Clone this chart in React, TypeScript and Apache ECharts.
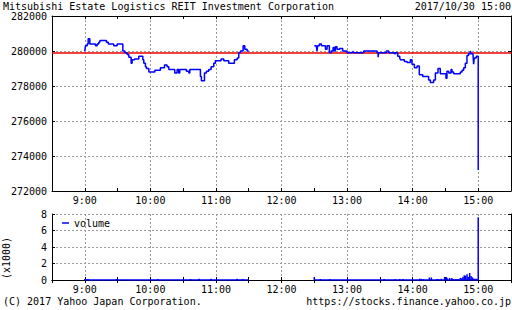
import React, { useEffect, useRef } from "react";
import * as echarts from "echarts";

// ---- data (times are minutes after 9:00) ----
const morningTimes = [0, 0.6, 2.2, 3.1, 4.6, 9.8, 11.3, 12.8, 13.8, 19.8, 21.5, 26.5, 29.6, 34.8, 36.6, 38.8, 40.3, 42.4, 43.3, 45.5, 49.4, 53.1, 54, 55.5, 56.4, 58.6, 64.1, 69.2, 72.9, 75.3, 76.9, 82.3, 84.5, 86, 86.9, 93, 95.2, 96.1, 105.8, 106.7, 109.5, 111.3, 113.4, 115.6, 118, 119.5, 124.7, 127.2, 131.7, 136.9, 139.4, 140.9, 142.4, 144.9, 146.4, 148.5, 150];
const morningPrices = [280000, 280300, 280400, 280700, 280400, 280300, 280400, 280500, 280600, 280500, 280400, 280300, 280400, 280000, 279900, 279800, 279650, 279300, 279500, 279550, 279700, 279500, 279300, 279100, 279000, 278800, 278900, 279050, 279200, 279100, 278950, 278750, 278950, 278750, 278950, 278850, 278750, 278950, 278550, 278300, 278750, 278850, 278950, 279100, 279300, 279450, 279550, 279450, 279300, 279500, 279600, 279900, 280000, 280300, 280100, 280000, 280000];

const afternoonTimes = [210, 211.9, 212.5, 213.1, 214.7, 216.5, 220.2, 221.7, 223.8, 225.4, 227.2, 228.4, 229.3, 230.8, 233.3, 236, 240, 244.6, 246.1, 255.2, 267.4, 268.4, 268.9, 276, 278.1, 283.3, 284.2, 286.3, 288.2, 288.8, 292.4, 294.9, 297.9, 299.4, 301.6, 304, 306.1, 309.2, 314.6, 316.2, 319.2, 320.8, 323.2, 325.3, 330.5, 331.4, 333, 335.1, 336, 337.5, 343.6, 345.2, 346.7, 348.2, 349.7, 351.2, 352.8, 353.4, 355.2, 355.8, 356.4, 358.2, 360];
const afternoonPrices = [280300, 280250, 280000, 280300, 280400, 280300, 280100, 280300, 279900, 280000, 280200, 280000, 280250, 280100, 280150, 280000, 279900, 279950, 279900, 280000, 279900, 279650, 279900, 280000, 279900, 279850, 279900, 279700, 279600, 279500, 279400, 279350, 279500, 279250, 279050, 279150, 278650, 278550, 278350, 278200, 278350, 278750, 279000, 278700, 278450, 278850, 278750, 278950, 278800, 278700, 278800, 278900, 279050, 279300, 279750, 279850, 280000, 279850, 279800, 279250, 279600, 279700, 273200];

const prevClose = 279900;

const volTimes = [0, 2.8, 29, 66.8, 96.7, 104.6, 115.6, 139.4, 144.5, 210, 215.6, 224.1, 274, 283.9, 288.2, 291.2, 306.4, 307.7, 310, 315.3, 317.1, 322.3, 323.5, 326.2, 329.3, 330.8, 331.4, 333.8, 335.9, 337.4, 339.6, 341.4, 343.6, 345.2, 346.1, 347.3, 348.5, 349.8, 351, 352.2, 353.5, 354.7, 355.9, 357.1, 358.3, 360];
const volValues = [0.12, 0.12, 0.1, 0.12, 0.1, 0.15, 0.15, 0.15, 0.12, 0.37, 0.12, 0.12, 0.12, 0.12, 0.12, 0.12, 0.15, 0.15, 0.12, 0.3, 0.3, 0.12, 0.12, 0.15, 0.37, 0.37, 0.25, 0.25, 0.25, 0.12, 0.12, 0.12, 0.25, 0.25, 0.4, 0.57, 0.53, 0.7, 0.37, 0.85, 0.5, 0.33, 0.15, 0.15, 0.15, 7.6];

const sessionStarts = [0, 210];
const sessionEnds = [150, 360];

const hourTicks = ["9:00", "10:00", "11:00", "12:00", "13:00", "14:00", "15:00"];

const titleText = "Mitsubishi Estate Logistics REIT Investment Corporation";
const dateText = "2017/10/30 15:00";
const copyrightText = "(C) 2017 Yahoo Japan Corporation.";
const urlText = "https://stocks.finance.yahoo.co.jp";
const volumeUnit = "(x1000)";

// ---- helpers ----
const BASE = 540; // 9:00 in minutes since midnight
const FONT = '"DejaVu Sans Mono", "Liberation Mono", monospace';
const BLUE = "#0000ff";
const RED = "#ee0000";
const GRID = "#999999";

const toMin = (s: string) => {
  const [h, m] = s.split(":").map(Number);
  return h * 60 + m;
};
const hourValues = hourTicks.map(toMin);

function stepify(times: number[], prices: number[]) {
  const out: number[][] = [];
  for (let i = 0; i < times.length; i++) {
    if (i > 0) out.push([BASE + times[i], prices[i - 1]]);
    out.push([BASE + times[i], prices[i]]);
  }
  return out;
}

const fmtHour = (v: number) => (v % 60 === 0 ? `${v / 60}:00` : "");

function xAxes(gridIndex: number) {
  const common = {
    type: "value",
    gridIndex,
    min: 510,
    max: 930,
    interval: 30,
  };
  return [
    {
      ...common,
      position: "bottom",
      axisLine: { show: true, lineStyle: { color: "#000", width: 1 } },
      axisTick: { show: true, inside: true, length: 3, lineStyle: { color: "#000" } },
      axisLabel: {
        show: true,
        formatter: fmtHour,
        color: "#000",
        fontFamily: FONT,
        fontSize: 10,
        margin: 4,
        showMinLabel: false,
        showMaxLabel: false,
      },
      splitLine: { show: false },
    },
    {
      ...common,
      position: "top",
      axisLine: { show: true, lineStyle: { color: "#000", width: 1 } },
      axisTick: { show: true, inside: true, length: 3, lineStyle: { color: "#000" } },
      axisLabel: { show: false },
      splitLine: { show: false },
    },
    {
      type: "value",
      gridIndex,
      min: 510,
      max: 930,
      position: "bottom",
      axisLine: { show: false },
      axisTick: { show: false, customValues: hourValues },
      axisLabel: { show: false, customValues: hourValues },
      splitLine: { show: true, lineStyle: { color: GRID, type: [2, 2], width: 1 } },
    },
  ];
}

function yAxes(gridIndex: number, min: number, max: number, interval: number) {
  const common = { type: "value", gridIndex, min, max, interval };
  return [
    {
      ...common,
      position: "left",
      axisLine: { show: true, lineStyle: { color: "#000", width: 1 } },
      axisTick: { show: true, inside: true, length: 3, lineStyle: { color: "#000" } },
      axisLabel: {
        color: "#000",
        fontFamily: FONT,
        fontSize: 10,
        margin: 5,
        formatter: (v: number) => String(v),
      },
      splitLine: { show: true, lineStyle: { color: GRID, type: [2, 2], width: 1 } },
    },
    {
      ...common,
      position: "right",
      axisLine: { show: true, lineStyle: { color: "#000", width: 1 } },
      axisTick: { show: true, inside: true, length: 3, lineStyle: { color: "#000" } },
      axisLabel: { show: false },
      splitLine: { show: false },
    },
  ];
}

const baselineData: (number[] | null)[] = [];
sessionStarts.forEach((s, i) => {
  if (i > 0) baselineData.push(null);
  baselineData.push([BASE + s, 0]);
  baselineData.push([BASE + sessionEnds[i], 0]);
});

const textStyle = (x: number, y: number, text: string, align = "left") => ({
  type: "text",
  x,
  y,
  silent: true,
  style: {
    text,
    font: `10px ${FONT}`,
    fill: "#000",
    align,
    verticalAlign: "middle",
  },
});

const option: any = {
  animation: false,
  backgroundColor: "#fff",
  grid: [
    { left: 52, right: 1, top: 16, height: 175, outerBoundsMode: "none" },
    { left: 52, right: 1, top: 214, height: 66, outerBoundsMode: "none" },
  ],
  xAxis: [...xAxes(0), ...xAxes(1)],
  yAxis: [...yAxes(0, 272000, 282000, 2000), ...yAxes(1, 0, 8, 2)],
  legend: {
    show: true,
    data: [{ name: "volume", icon: "rect" }],
    left: 62,
    top: 218,
    padding: 0,
    itemWidth: 7,
    itemHeight: 1.5,
    selectedMode: false,
    textStyle: { fontFamily: FONT, fontSize: 10, color: "#000" },
  },
  graphic: [
    textStyle(3, 6.5, titleText),
    textStyle(511, 6.5, dateText, "right"),
    textStyle(3, 301.5, copyrightText),
    textStyle(511, 301.5, urlText, "right"),
    {
      type: "text",
      x: 6,
      y: 258,
      rotation: Math.PI / 2,
      silent: true,
      style: {
        text: volumeUnit,
        font: `10px ${FONT}`,
        fill: "#000",
        align: "center",
        verticalAlign: "middle",
      },
    },
  ],
  series: [
    {
      type: "line",
      name: "price-am",
      xAxisIndex: 0,
      yAxisIndex: 0,
      data: stepify(morningTimes, morningPrices),
      showSymbol: false,
      symbol: "none",
      lineStyle: { color: BLUE, width: 1.5 },
      z: 3,
      markLine: {
        silent: true,
        symbol: ["none", "none"],
        label: { show: false },
        lineStyle: { color: RED, width: 1.5, type: "solid" },
        data: [{ yAxis: prevClose }],
        z: 2,
      },
    },
    {
      type: "line",
      name: "price-pm",
      xAxisIndex: 0,
      yAxisIndex: 0,
      data: stepify(afternoonTimes, afternoonPrices),
      showSymbol: false,
      symbol: "none",
      lineStyle: { color: BLUE, width: 1.5 },
      z: 3,
    },
    {
      type: "bar",
      name: "volume",
      xAxisIndex: 3,
      yAxisIndex: 2,
      data: volTimes.map((t, i) => [BASE + t, volValues[i]]),
      barWidth: 1.5,
      barMinHeight: 1,
      itemStyle: { color: BLUE },
    },
    {
      type: "line",
      name: "session",
      xAxisIndex: 3,
      yAxisIndex: 2,
      data: baselineData,
      connectNulls: false,
      showSymbol: false,
      symbol: "none",
      lineStyle: { color: BLUE, width: 1.5 },
    },
  ],
};

export default function App() {
  const ref = useRef<HTMLDivElement>(null);
  useEffect(() => {
    if (!ref.current) return;
    const chart = echarts.init(ref.current, null, { renderer: "svg" });
    chart.setOption(option);
    return () => chart.dispose();
  }, []);
  return (
    <div
      ref={ref}
      style={{ position: "absolute", left: 0, top: 0, width: 512, height: 310, background: "#fff" }}
    />
  );
}
